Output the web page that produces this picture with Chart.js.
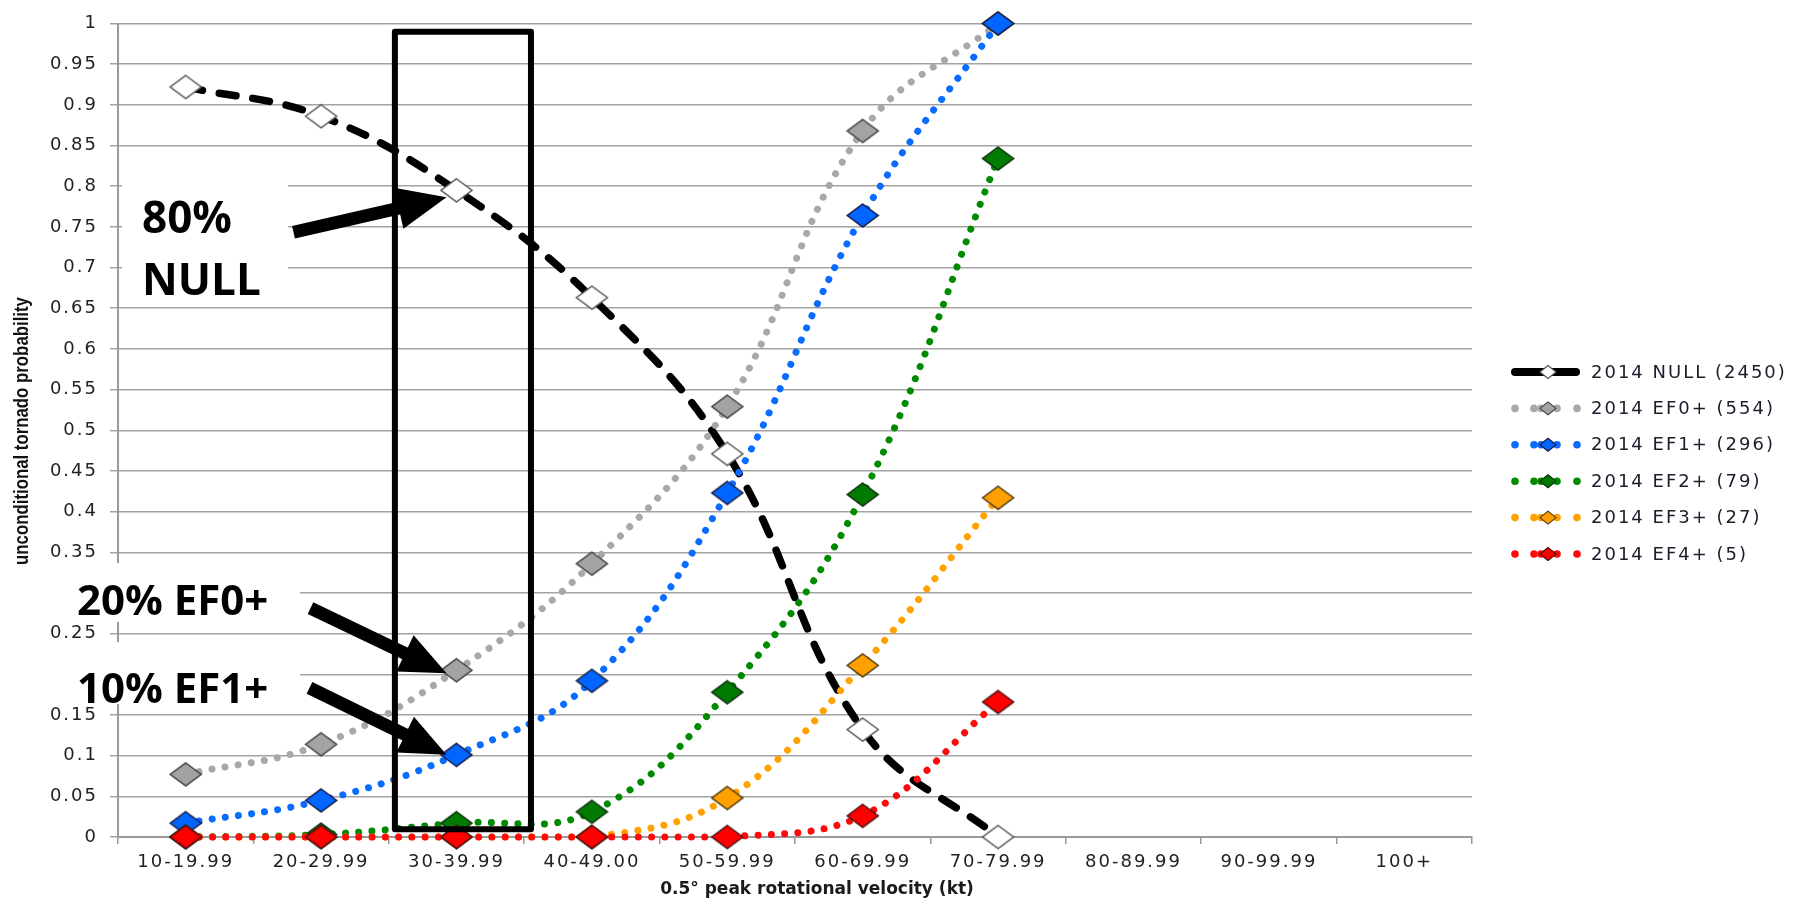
<!DOCTYPE html>
<html>
<head>
<meta charset="utf-8">
<script src="https://cdn.jsdelivr.net/npm/chart.js@4.4.0/dist/chart.umd.min.js"></script>
<style>
  html, body { margin: 0; padding: 0; background: #fff; }
</style>
</head>
<body>
<canvas id="chart" width="1804" height="905"></canvas>
<script>
// categories and series
const velocityBins = ['10-19.99', '20-29.99', '30-39.99', '40-49.00', '50-59.99', '60-69.99', '70-79.99', '80-89.99', '90-99.99', '100+'];
const nullProb = [0.922, 0.886, 0.795, 0.663, 0.471, 0.132, 0.0];
const ef0Prob = [0.077, 0.114, 0.205, 0.336, 0.529, 0.868, 1.0];
const ef1Prob = [0.017, 0.045, 0.101, 0.192, 0.423, 0.764, 1.0];
const ef2Prob = [0.0, 0.003, 0.017, 0.031, 0.178, 0.421, 0.834];
const ef3Prob = [0.0, 0.0, 0.0, 0.0, 0.048, 0.211, 0.417];
const ef4Prob = [0.0, 0.0, 0.0, 0.0, 0.0, 0.026, 0.166];
const seriesNames = ['2014 NULL (2450)', '2014 EF0+ (554)', '2014 EF1+ (296)', '2014 EF2+ (79)', '2014 EF3+ (27)', '2014 EF4+ (5)'];
const xTitle = '0.5\u00b0 peak rotational velocity (kt)';
const yTitle = 'unconditional tornado probability';

const seriesValues = [nullProb, ef0Prob, ef1Prob, ef2Prob, ef3Prob, ef4Prob];
const lineColors = ['#000000', '#a8a8a8', '#0a6cff', '#008a00', '#ffa200', '#ff0a0a'];
const markerFills = ['#ffffff', '#a3a3a3', '#0066ff', '#007a00', '#ffa000', '#ff0000'];
const markerEdges = ['#555555', '#404040', '#1a1a40', '#0f300f', '#4a3a10', '#4a1010'];

// diamond marker as a small canvas (excel diamonds are a bit wider than tall)
function diamond(fill, edge, w, h) {
    const c = document.createElement('canvas');
    c.width = w + 4; c.height = h + 4;
    const g = c.getContext('2d');
    g.beginPath();
    g.moveTo(c.width / 2, 2);
    g.lineTo(c.width - 2, c.height / 2);
    g.lineTo(c.width / 2, c.height - 2);
    g.lineTo(2, c.height / 2);
    g.closePath();
    g.fillStyle = fill; g.fill();
    g.lineWidth = 1.5; g.strokeStyle = edge; g.stroke();
    return c;
}
const markers = markerFills.map((f, i) => diamond(f, markerEdges[i], 31, 23));

const datasets = seriesValues.map((vals, i) => ({
    label: seriesNames[i],
    data: vals,
    borderColor: lineColors[i],
    backgroundColor: markerFills[i],
    borderWidth: i === 0 ? 7.5 : 7,
    borderDash: i === 0 ? [17, 17] : [0.01, 13.3],
    borderCapStyle: 'round',
    tension: 0.4,
    pointStyle: markers[i],
    pointRadius: 16,
    fill: false,
    clip: false,
    order: 6 - i
}));

// excel-ish text is wide; spread letters a little for axis ticks
const spacingPlugin = {
    id: 'spacing',
    beforeDraw(chart) { chart.ctx.letterSpacing = '2px'; }
};

function drawArrow(ctx, tx, ty, fx, fy, shaftW, headLen, headHalf) {
    const dx = tx - fx, dy = ty - fy;
    const len = Math.hypot(dx, dy);
    const ux = dx / len, uy = dy / len;
    const bx = tx - ux * headLen, by = ty - uy * headLen;
    ctx.beginPath();
    ctx.moveTo(fx, fy);
    ctx.lineTo(bx + ux * 2, by + uy * 2);
    ctx.lineWidth = shaftW;
    ctx.lineCap = 'butt';
    ctx.stroke();
    ctx.beginPath();
    ctx.moveTo(tx, ty);
    ctx.lineTo(bx - uy * headHalf, by + ux * headHalf);
    ctx.lineTo(bx + uy * headHalf, by - ux * headHalf);
    ctx.closePath();
    ctx.fill();
}

const calloutPlugin = {
    id: 'callouts',
    afterDraw(chart) {
        const ctx = chart.ctx;
        const xs = chart.scales.x, ys = chart.scales.y;
        ctx.save();
        ctx.letterSpacing = '0px';

        // white boxes behind the callout text
        ctx.fillStyle = '#ffffff';
        ctx.fillRect(122, 152, 166, 144);
        ctx.fillRect(0, 563, 300, 59);
        ctx.fillRect(0, 642, 300, 62);

        // callout text
        ctx.fillStyle = '#000000';
        ctx.textAlign = 'left';
        ctx.textBaseline = 'alphabetic';
        ctx.font = 'bold 44px "Open Sans"';
        ctx.fillText('80%', 142, 233);
        ctx.fillText('NULL', 142, 295);
        ctx.font = 'bold 42px "Open Sans"';
        ctx.fillText('20% EF0+', 77, 615);
        ctx.fillText('10% EF1+', 77, 703);

        // box around the 30-39.99 bin
        const rl = xs.getPixelForValue(1.545), rr = xs.getPixelForValue(2.55);
        const rt = ys.getPixelForValue(0.99), rb = ys.getPixelForValue(0.0095);
        ctx.strokeStyle = '#000000';
        ctx.lineWidth = 6;
        ctx.lineJoin = 'round';
        ctx.strokeRect(rl, rt, rr - rl, rb - rt);

        // arrows pointing at the 30-39.99 points
        const px = xs.getPixelForValue(2);
        const t1x = px - 10, t1y = ys.getPixelForValue(nullProb[2]) + 7;
        drawArrow(ctx, t1x, t1y, t1x - 153, t1y + 35, 13, 49, 21);
        const t2x = px - 10, t2y = ys.getPixelForValue(ef0Prob[2]) + 3;
        drawArrow(ctx, t2x, t2y, t2x - 136, t2y - 65, 13, 46, 20);
        const t3x = px - 10, t3y = ys.getPixelForValue(ef1Prob[2]);
        drawArrow(ctx, t3x, t3y, t3x - 137, t3y - 67, 13, 46, 20);

        // axis titles
        ctx.fillStyle = '#1a1a1a';
        ctx.textAlign = 'center';
        ctx.textBaseline = 'middle';
        ctx.font = 'bold 17px "DejaVu Sans"';
        ctx.fillText(xTitle, 817, 890);
        ctx.save();
        ctx.translate(22, 431);
        ctx.rotate(-Math.PI / 2);
        ctx.scale(0.8, 1);
        ctx.fillStyle = '#111111';
        ctx.font = 'bold 21px "Liberation Sans", Arial, sans-serif';
        ctx.fillText(yTitle, 0, 0);
        ctx.restore();

        // legend: line sample with a diamond, then the name
        const lx = 1511, ly0 = 372, step = 36.4;
        seriesNames.forEach((name, i) => {
            const cy = ly0 + i * step;
            if (i === 0) {
                ctx.beginPath();
                ctx.moveTo(lx + 4, cy); ctx.lineTo(lx + 65, cy);
                ctx.lineWidth = 8; ctx.lineCap = 'round';
                ctx.strokeStyle = lineColors[0]; ctx.stroke();
            } else {
                ctx.fillStyle = lineColors[i];
                [4, 23, 30, 46, 66].forEach(o => {
                    ctx.beginPath(); ctx.arc(lx + o, cy, 3.8, 0, Math.PI * 2); ctx.fill();
                });
            }
            ctx.beginPath();
            ctx.moveTo(lx + 37, cy - 6.5); ctx.lineTo(lx + 45, cy);
            ctx.lineTo(lx + 37, cy + 6.5); ctx.lineTo(lx + 29, cy);
            ctx.closePath();
            ctx.fillStyle = markerFills[i]; ctx.fill();
            ctx.lineWidth = 1.2; ctx.strokeStyle = markerEdges[i]; ctx.stroke();

            ctx.fillStyle = '#1c1c2c';
            ctx.textAlign = 'left';
            ctx.textBaseline = 'middle';
            ctx.font = '18px "DejaVu Sans"';
            ctx.letterSpacing = '2px';
            ctx.fillText(name, 1591, cy + 1);
            ctx.letterSpacing = '0px';
        });
        ctx.restore();
    }
};

new Chart(document.getElementById('chart').getContext('2d'), {
    type: 'line',
    data: { labels: velocityBins, datasets: datasets },
    options: {
        responsive: false,
        animation: false,
        devicePixelRatio: 1,
        layout: { padding: { top: 17, right: 332, left: 0, bottom: 0 } },
        scales: {
            x: {
                type: 'category',
                offset: true,
                grid: { offset: true, drawOnChartArea: false, tickLength: 7, color: '#9a9a9a', lineWidth: 1.5 },
                border: { color: '#9a9a9a', width: 2 },
                ticks: { color: '#222222', font: { family: 'DejaVu Sans', size: 18 }, padding: 8, maxRotation: 0, autoSkip: false },
                afterFit: s => { s.height = 68; }
            },
            y: {
                min: 0,
                max: 1,
                grid: { color: '#a3a3a3', lineWidth: 1.5, tickLength: 8 },
                border: { color: '#9a9a9a', width: 2 },
                ticks: {
                    stepSize: 0.05,
                    color: '#222222',
                    font: { family: 'DejaVu Sans', size: 18 },
                    padding: 12,
                    callback: v => String(+v.toFixed(2))
                },
                afterFit: s => { s.width = 118; }
            }
        },
        plugins: {
            legend: { display: false },
            tooltip: { enabled: false }
        }
    },
    plugins: [spacingPlugin, calloutPlugin]
});
</script>
</body>
</html>
